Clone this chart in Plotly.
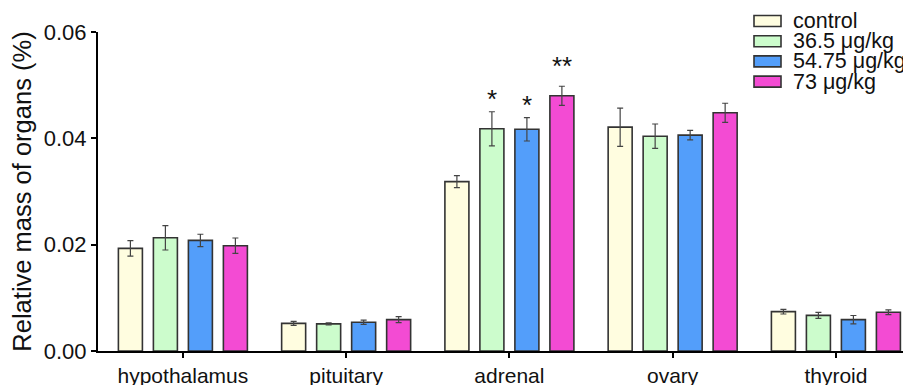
import plotly.graph_objects as go

organs = ["hypothalamus", "pituitary", "adrenal", "ovary", "thyroid"]
groups = ["control", "36.5 μg/kg", "54.75 μg/kg", "73 μg/kg"]
colors = ["#FFFDE0", "#CCFCCC", "#539EFA", "#F34BD3"]

control = [0.0193, 0.0052, 0.03185, 0.0421, 0.0074]
dose_365 = [0.0213, 0.0051, 0.0418, 0.0404, 0.0067]
dose_5475 = [0.0208, 0.0054, 0.0417, 0.0406, 0.0059]
dose_73 = [0.0198, 0.0059, 0.0480, 0.0448, 0.0073]

err_control = [0.00145, 0.00038, 0.00113, 0.0036, 0.00044]
err_365 = [0.0023, 0.0002, 0.0032, 0.0023, 0.00056]
err_5475 = [0.00116, 0.0004, 0.0022, 0.0009, 0.00078]
err_73 = [0.00145, 0.00056, 0.0018, 0.0018, 0.00044]

# significance marks: (organ, group index, label)
marks = [("adrenal", 1, "*"), ("adrenal", 2, "*"), ("adrenal", 3, "**")]

values = [control, dose_365, dose_5475, dose_73]
errors = [err_control, err_365, err_5475, err_73]

FONT = "Liberation Sans, Arial, sans-serif"
TXT = "#111111"
W, H = 911, 385
ML, MR, MT, MB = 90, 8, 24, 42   # page body adds an 8px offset
PW, PH = W - ML - MR, H - MT - MB

fig = go.Figure()
for g, vals, errs, col in zip(groups, values, errors, colors):
    fig.add_trace(go.Bar(
        x=organs, y=vals, name=g, showlegend=False,
        marker=dict(color=col, line=dict(color="#333333", width=1.6)),
        error_y=dict(type="data", array=errs, visible=True,
                     color="#444444", thickness=1.2, width=3),
    ))

bargap = 0.1425
bargroupgap = 0.314
slot = (1 - bargap) / len(groups)
for organ, gi, label in marks:
    oi = organs.index(organ)
    top = values[gi][oi] + errors[gi][oi]
    off = (gi - (len(groups) - 1) / 2) * slot
    fig.add_annotation(
        x=oi + off, y=top, text=label, showarrow=False,
        yanchor="bottom", yshift=-4 if label == "*" else 3,
        font=dict(family=FONT, size=26, color=TXT),
    )

# compact legend drawn as boxes + text (figure pixel layout)
box_x0, box_x1, text_x = 746, 773, 783
row_y0, row_dy, box_h = 13, 20.2, 11
for i, (g, col) in enumerate(zip(groups, colors)):
    cy = row_y0 + i * row_dy
    fig.add_shape(
        type="rect", xref="paper", yref="paper",
        x0=(box_x0 - ML) / PW, x1=(box_x1 - ML) / PW,
        y0=(H - MB - (cy + box_h / 2)) / PH, y1=(H - MB - (cy - box_h / 2)) / PH,
        fillcolor=col, line=dict(color="#333333", width=1.6),
    )
    fig.add_annotation(
        xref="paper", yref="paper",
        x=(text_x - ML) / PW, y=(H - MB - cy) / PH,
        xanchor="left", yanchor="middle", showarrow=False, text=g,
        font=dict(family=FONT, size=21.5, color=TXT),
    )

fig.update_layout(
    width=W, height=H,
    margin=dict(l=ML, r=MR, t=MT, b=MB, autoexpand=False),
    paper_bgcolor="white", plot_bgcolor="white",
    barmode="group", bargap=bargap, bargroupgap=bargroupgap,
    font=dict(family=FONT, size=22, color=TXT),
    showlegend=False,
    xaxis=dict(
        range=[-0.52, 4.46], showline=True, linecolor="black", linewidth=2,
        ticks="outside", ticklen=5, tickwidth=2, tickcolor="black",
        showgrid=False, zeroline=False,
        tickfont=dict(family=FONT, size=21, color=TXT),
    ),
    yaxis=dict(
        range=[0, 0.06], tickvals=[0, 0.02, 0.04, 0.06], tickformat=".2f",
        showline=True, linecolor="black", linewidth=2,
        ticks="outside", ticklen=5, tickwidth=2, tickcolor="black",
        showgrid=False, zeroline=False,
        tickfont=dict(family=FONT, size=22, color=TXT),
        title=dict(text="Relative mass of organs (%)",
                   font=dict(family=FONT, size=25.5, color=TXT), standoff=10),
    ),
)

fig.write_html("out.html")
